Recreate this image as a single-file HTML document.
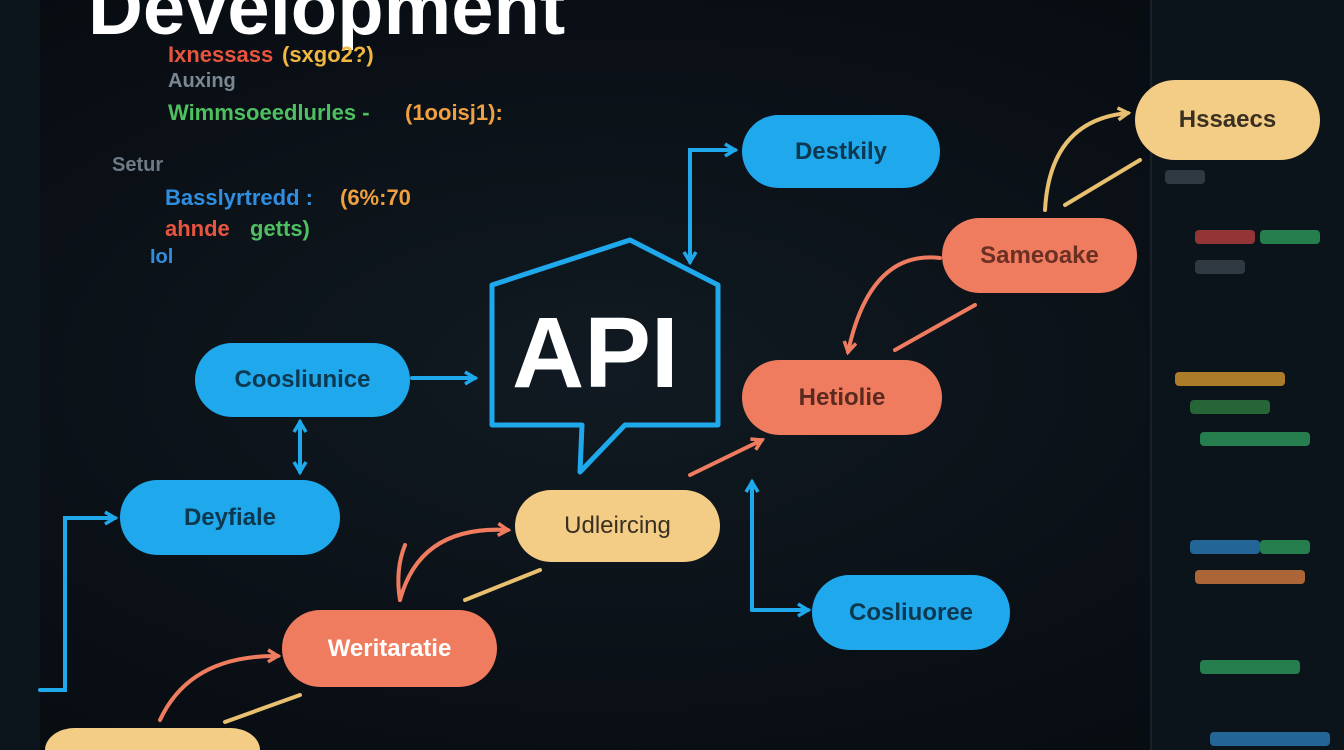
<!DOCTYPE html>
<html><head><meta charset="utf-8"><style>
html,body{margin:0;padding:0;width:1344px;height:750px;overflow:hidden;}
body{position:relative;background:#0a1017;font-family:"Liberation Sans",sans-serif;}
.bg{position:absolute;left:0;top:0;width:1344px;height:750px;background:radial-gradient(ellipse at 45% 50%,#111a22 0%,#0a1016 60%,#070b10 100%);}
.lp{position:absolute;left:0;top:0;width:40px;height:750px;background:#0d151c;}
.rp{position:absolute;left:1150px;top:0;width:192px;height:750px;background:#0c141b;border-left:2px solid #16212b;}
.t{position:absolute;white-space:nowrap;font-weight:bold;}
.pill{position:absolute;border-radius:40px;display:flex;align-items:center;justify-content:center;font-weight:bold;font-size:24px;color:#0d2a3a;}
.b{background:#1fa8ec;color:#0c3850;}
.y{background:#f3cd85;color:#3a3022;}
.o{background:#f07c60;color:#fff3ee;}
.bar{position:absolute;height:14px;border-radius:4px;opacity:.75;}
</style></head><body>
<div class="bg"></div>
<div class="lp"></div>
<div class="rp"></div>
<div class="t" style="left:88px;top:-36px;font-size:76px;line-height:90px;color:#fff;">Development</div>
<div class="t" style="left:168px;top:42px;font-size:22px;color:#e8553f;">Ixnessass</div>
<div class="t" style="left:282px;top:42px;font-size:22px;color:#f0b840;">(sxgo2?)</div>
<div class="t" style="left:168px;top:70px;font-size:20px;color:#7a8894;">Auxing</div>
<div class="t" style="left:168px;top:100px;font-size:22px;color:#4ec060;">Wimmsoeedlurles -</div>
<div class="t" style="left:405px;top:100px;font-size:22px;color:#f0a040;">(1ooisj1):</div>
<div class="t" style="left:112px;top:154px;font-size:20px;color:#6d7a86;">Setur</div>
<div class="t" style="left:165px;top:185px;font-size:22px;color:#2f8ee0;">Basslyrtredd :</div>
<div class="t" style="left:340px;top:185px;font-size:22px;color:#f0a040;">(6%:70</div>
<div class="t" style="left:165px;top:216px;font-size:22px;color:#e8553f;">ahnde</div>
<div class="t" style="left:250px;top:216px;font-size:22px;color:#4ec060;">getts)</div>
<div class="t" style="left:150px;top:246px;font-size:20px;color:#2f8ee0;">Iol</div>

<div class="bar" style="left:1165px;top:170px;width:40px;background:#3a4650"></div>
<div class="bar" style="left:1195px;top:230px;width:60px;background:#c04040"></div>
<div class="bar" style="left:1260px;top:230px;width:60px;background:#2fa060"></div>
<div class="bar" style="left:1195px;top:260px;width:50px;background:#3a4650"></div>
<div class="bar" style="left:1175px;top:372px;width:110px;background:#e0a030"></div>
<div class="bar" style="left:1190px;top:400px;width:80px;background:#2f8040"></div>
<div class="bar" style="left:1200px;top:432px;width:110px;background:#2fa060"></div>
<div class="bar" style="left:1190px;top:540px;width:70px;background:#2a80c0"></div>
<div class="bar" style="left:1260px;top:540px;width:50px;background:#2fa060"></div>
<div class="bar" style="left:1195px;top:570px;width:110px;background:#e08040"></div>
<div class="bar" style="left:1200px;top:660px;width:100px;background:#2fa060"></div>
<div class="bar" style="left:1210px;top:732px;width:120px;background:#2a80c0"></div>

<svg width="1344" height="750" style="position:absolute;left:0;top:0">
<defs>
<marker id="ab" markerUnits="userSpaceOnUse" markerWidth="16" markerHeight="16" refX="12" refY="8" orient="auto"><path d="M2,2 L12,8 L2,14" fill="none" stroke="#1fa8ec" stroke-width="3.5"/></marker>
<marker id="ao" markerUnits="userSpaceOnUse" markerWidth="16" markerHeight="16" refX="12" refY="8" orient="auto"><path d="M2,2 L12,8 L2,14" fill="none" stroke="#f07c60" stroke-width="3.5"/></marker>
<marker id="ay" markerUnits="userSpaceOnUse" markerWidth="16" markerHeight="16" refX="12" refY="8" orient="auto"><path d="M2,2 L12,8 L2,14" fill="none" stroke="#e8c070" stroke-width="3.5"/></marker>
</defs>
<g fill="none" stroke-width="4" stroke-linecap="round">
<path d="M492,285 L630,240 L718,285 L718,425 L625,425 L580,472 L582,425 L492,425 Z" stroke="#1fa8ec" stroke-width="5" stroke-linejoin="round"/>
<path d="M690,200 L690,150 L735,150" stroke="#1fa8ec" marker-end="url(#ab)"/>
<path d="M690,150 L690,262" stroke="#1fa8ec" marker-end="url(#ab)"/>
<path d="M412,378 L475,378" stroke="#1fa8ec" marker-end="url(#ab)"/>
<path d="M300,440 L300,472" stroke="#1fa8ec" marker-end="url(#ab)"/>
<path d="M300,450 L300,422" stroke="#1fa8ec" marker-end="url(#ab)"/>
<path d="M40,690 L65,690 L65,518 L115,518" stroke="#1fa8ec" marker-end="url(#ab)"/>
<path d="M752,610 L752,482" stroke="#1fa8ec" marker-end="url(#ab)"/>
<path d="M752,610 L808,610" stroke="#1fa8ec" marker-end="url(#ab)"/>
<path d="M690,475 L762,440" stroke="#f07c60" marker-end="url(#ao)"/>
<path d="M895,350 L975,305" stroke="#f07c60"/>
<path d="M940,258 Q870,250 848,352" stroke="#f07c60" marker-end="url(#ao)"/>
<path d="M400,600 Q420,525 508,530" stroke="#f07c60" marker-end="url(#ao)"/>
<path d="M405,545 Q395,570 400,600" stroke="#f07c60"/>
<path d="M465,600 L540,570" stroke="#e8c070"/>
<path d="M160,720 Q190,655 278,656" stroke="#f07c60" marker-end="url(#ao)"/>
<path d="M225,722 L300,695" stroke="#e8c070"/>
<path d="M1045,210 Q1050,120 1128,113" stroke="#e8c070" marker-end="url(#ay)"/>
<path d="M1065,205 L1140,160" stroke="#e8c070"/>
</g>
</svg>
<div class="t" style="left:512px;top:296px;font-size:100px;color:#fff;">API</div>

<div class="pill b" style="left:742px;top:115px;width:198px;height:73px;">Destkily</div>
<div class="pill b" style="left:195px;top:343px;width:215px;height:74px;">Coosliunice</div>
<div class="pill b" style="left:120px;top:480px;width:220px;height:75px;">Deyfiale</div>
<div class="pill b" style="left:812px;top:575px;width:198px;height:75px;">Cosliuoree</div>
<div class="pill y" style="left:515px;top:490px;width:205px;height:72px;font-weight:normal;">Udleircing</div>
<div class="pill y" style="left:1135px;top:80px;width:185px;height:80px;">Hssaecs</div>
<div style="position:absolute;left:45px;top:728px;width:215px;height:22px;border-radius:30px 30px 0 0 / 22px 22px 0 0;background:#f3cd85;"></div>
<div class="pill o" style="left:742px;top:360px;width:200px;height:75px;color:#5a2a20;">Hetiolie</div>
<div class="pill o" style="left:942px;top:218px;width:195px;height:75px;color:#6a3024;">Sameoake</div>
<div class="pill o" style="left:282px;top:610px;width:215px;height:77px;color:#fff;">Weritaratie</div>
</body></html>
